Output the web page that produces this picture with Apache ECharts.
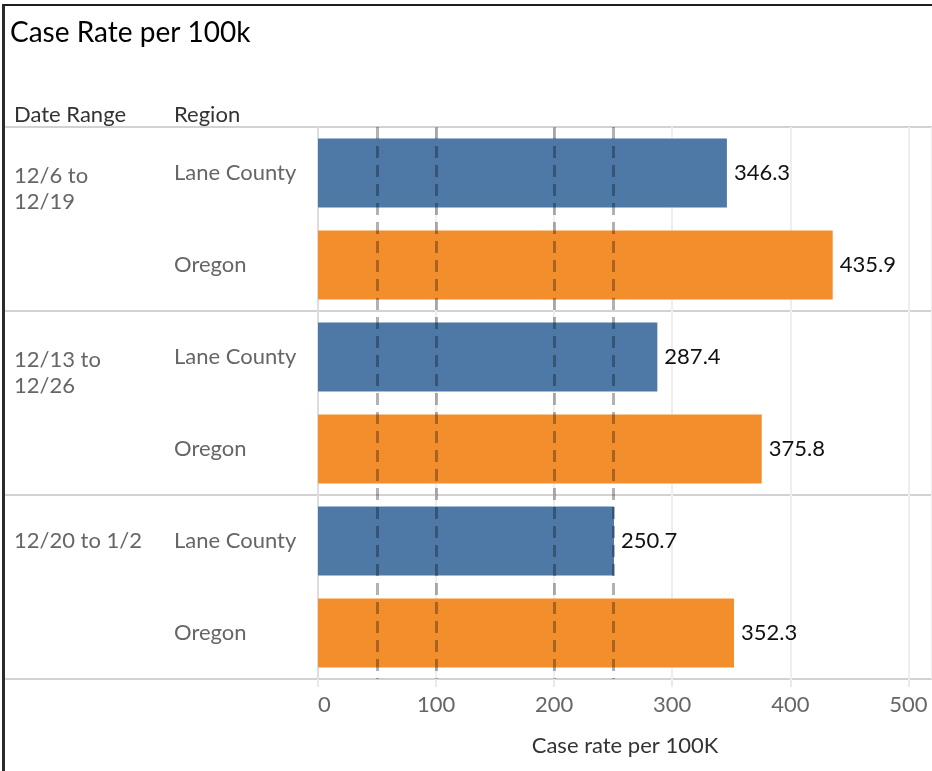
<!DOCTYPE html>
<html>
<head>
<meta charset="utf-8">
<script src="https://cdn.jsdelivr.net/npm/echarts@6/dist/echarts.min.js"></script>
<style>
  html, body { margin: 0; padding: 0; background: #fff; overflow: hidden; }
  #chart { position: absolute; left: 0; top: 0; width: 932px; height: 771px; }
  #frame { position: absolute; left: 2px; top: 4px; width: 2000px; height: 2000px;
           border-left: 3px solid #2b2b2b; border-top: 2px solid #1e1e1e; pointer-events: none; }
</style>
</head>
<body>
<div id="chart"></div>
<div id="frame"></div>
<script>
// ---- data ----
const titleText = 'Case Rate per 100k';
const headerDate = 'Date Range';
const headerRegion = 'Region';
const dateRanges = ['12/6 to\n12/19', '12/13 to\n12/26', '12/20 to 1/2'];
const regions = ['Lane County', 'Oregon'];
const laneCounty = [346.3, 287.4, 250.7];
const oregon = [435.9, 375.8, 352.3];
const referenceLines = [50, 100, 200, 250];
const axisName = 'Case rate per 100K';
const regionColors = ['#4e79a7', '#f28e2b'];

// ---- build rows ----
const rowRegion = [];
const rowDate = [];
const rowData = [];
dateRanges.forEach((d, i) => {
  const vals = [laneCounty[i], oregon[i]];
  regions.forEach((r, j) => {
    rowRegion.push(r);
    rowDate.push(j === 0 ? d : '');
    rowData.push({ value: vals[j], itemStyle: { color: regionColors[j] } });
  });
});

const FONT = 'Lato';
const FS = 22;
const chart = echarts.init(document.getElementById('chart'), null, { renderer: 'canvas' });

chart.setOption({
  backgroundColor: '#fff',
  animation: false,
  textStyle: { fontFamily: FONT },
  title: [
    { text: titleText, left: 10, top: 19, padding: 0,
      textStyle: { fontFamily: FONT, fontSize: 28, fontWeight: 'normal', color: '#000' } },
    { text: headerDate, left: 14, top: 104, padding: 0,
      textStyle: { fontFamily: FONT, fontSize: FS, fontWeight: 'normal', color: '#333' } },
    { text: headerRegion, left: 174, top: 104, padding: 0,
      textStyle: { fontFamily: FONT, fontSize: FS, fontWeight: 'normal', color: '#333' } }
  ],
  grid: [
    { left: 4, right: 0, top: 127, bottom: 92, containLabel: false },
    { left: 318, right: 0, top: 127, bottom: 92, containLabel: false }
  ],
  xAxis: [
    { gridIndex: 0, type: 'value', show: false, min: 0, max: 1 },
    { gridIndex: 1, type: 'value', min: 0, max: 520, interval: 100,
      name: axisName, nameLocation: 'middle', nameGap: 56,
      nameTextStyle: { fontFamily: FONT, fontSize: FS, color: '#333' },
      axisLine: { show: false },
      axisTick: { show: true, length: 8, lineStyle: { color: '#eaeaea', width: 2 } },
      axisLabel: { fontFamily: FONT, fontSize: FS, color: '#666', margin: 15,
                   showMaxLabel: false, alignMinLabel: 'left' },
      splitLine: { show: true, lineStyle: { color: '#eeeeee', width: 2 } }
    }
  ],
  yAxis: [
    { gridIndex: 0, type: 'category', data: dateRanges, inverse: true,
      axisLine: { show: false }, axisTick: { show: false }, axisLabel: { show: false },
      splitLine: { show: true, lineStyle: { color: '#d2d2d2', width: 2 } } },
    { gridIndex: 1, type: 'category', data: rowRegion, inverse: true,
      axisLine: { show: true, lineStyle: { color: '#d8d8d8', width: 1.5 } },
      axisTick: { show: false },
      axisLabel: { align: 'left', margin: 144, fontFamily: FONT, fontSize: FS, color: '#666' } },
    { gridIndex: 1, type: 'category', data: rowDate, inverse: true, position: 'left', offset: 0,
      axisLine: { show: false }, axisTick: { show: false },
      axisLabel: { align: 'left', margin: 304, interval: 0,
        formatter: v => v ? (v.indexOf('\n') >= 0 ? '{two|' + v + '}' : '{one|' + v + '}') : '',
        rich: {
          two: { fontFamily: FONT, fontSize: FS, color: '#666', lineHeight: 26, padding: [32, 0, 0, 0] },
          one: { fontFamily: FONT, fontSize: FS, color: '#666', lineHeight: 26 }
        } } }
  ],
  series: [
    { type: 'bar', xAxisIndex: 1, yAxisIndex: 1, data: rowData, barCategoryGap: '25%',
      label: { show: true, position: 'right', distance: 7, fontFamily: FONT, fontSize: FS, color: '#111',
               formatter: p => p.value.toFixed(1) },
      markLine: { silent: true, symbol: 'none', label: { show: false },
        lineStyle: { type: [12, 7], color: 'rgba(0,0,0,0.3)', width: 3 },
        data: referenceLines.map(v => ({ xAxis: v })) }
    }
  ]
});
</script>
</body>
</html>
